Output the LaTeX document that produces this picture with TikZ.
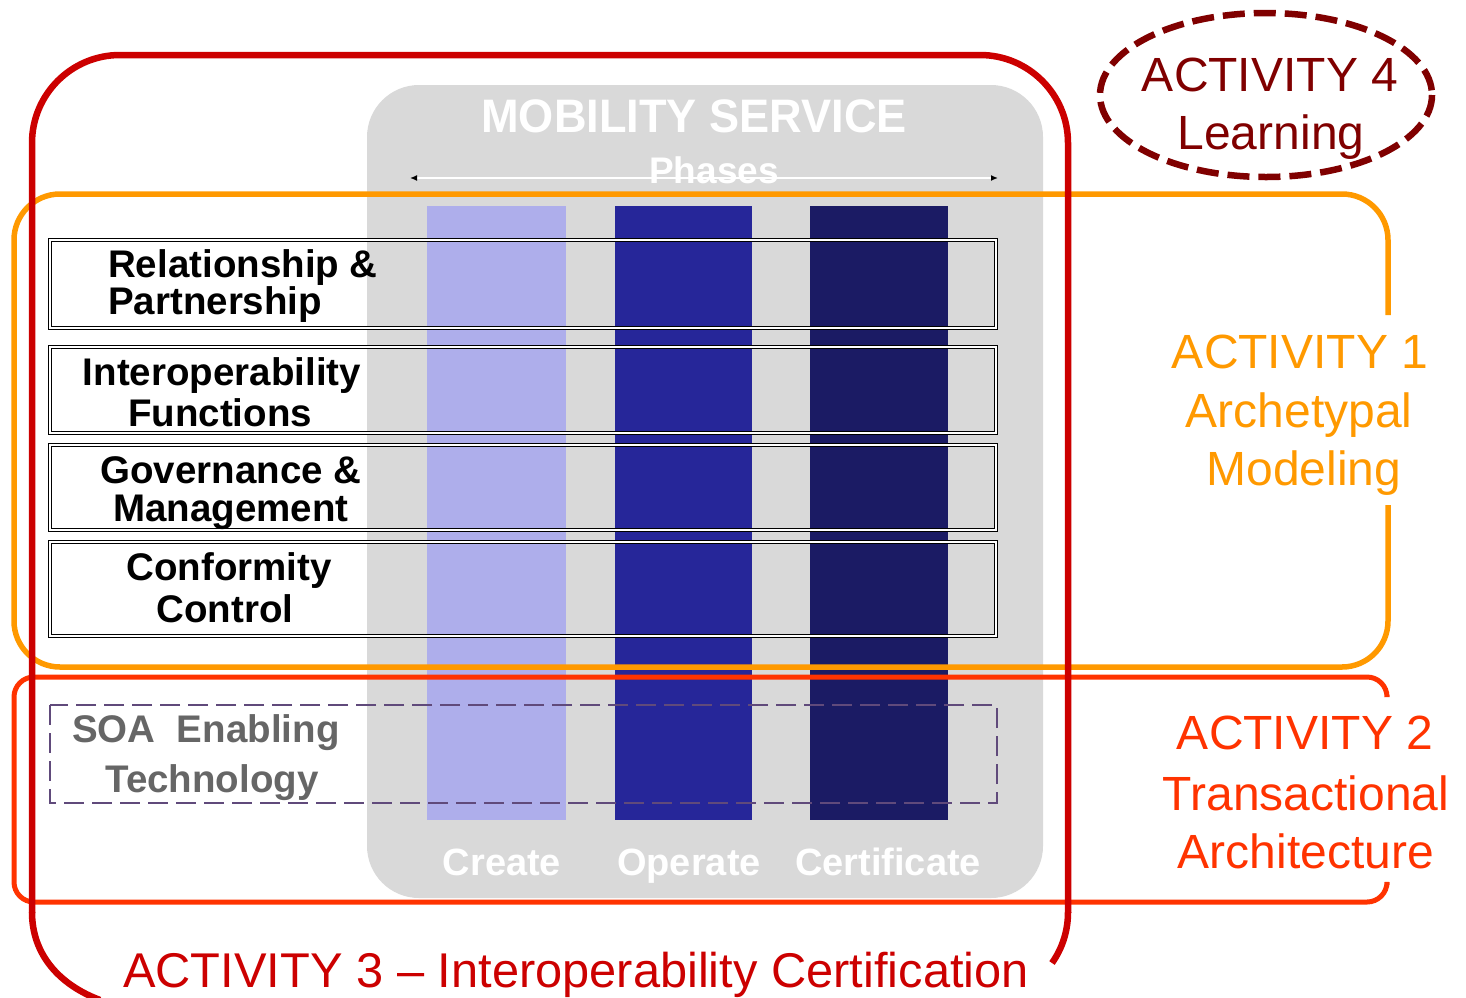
\documentclass[tikz,border=0pt]{standalone}
\usepackage{fontspec}
\usepackage{graphicx}
\setmainfont{Liberation Sans}
\usetikzlibrary{arrows.meta}
\definecolor{panelgray}{HTML}{D9D9D9}
\definecolor{colcreate}{HTML}{AEAEEB}
\definecolor{coloperate}{HTML}{262699}
\definecolor{colcert}{HTML}{1B1B64}
\definecolor{actone}{HTML}{FF9900}
\definecolor{acttwo}{HTML}{FF3300}
\definecolor{actthree}{HTML}{CC0000}
\definecolor{actfour}{HTML}{800000}
\definecolor{soagray}{HTML}{666666}
\definecolor{soadash}{HTML}{604A7B}
\newcommand{\fsz}[1]{\fontsize{#1}{#1}\selectfont}
\begin{document}
\begin{tikzpicture}[x=1pt,y=-1pt,
  rowbox/.style={draw=black, double=white, line width=1.1pt, double distance=1.8pt},
  boxlabel/.style={font=\bfseries\fsz{38.5}, text=black, inner sep=0pt, anchor=base},
  soalabel/.style={font=\bfseries\fsz{38.5}, text=soagray, inner sep=0pt, anchor=base},
  whitelabel/.style={font=\bfseries\fsz{38}, text=white, inner sep=0pt, anchor=base},
  actlabel/.style={font=\fsz{48}, inner sep=0pt, anchor=base}
]
\useasboundingbox (0,0) rectangle (1466,997);

% panel
\fill[panelgray, rounded corners=52pt] (367,85) rectangle (1043,898);
% phase columns
\fill[colcreate] (427,206) rectangle (566,820);
\fill[coloperate] (615,206) rectangle (752,820);
\fill[colcert] (810,206) rectangle (948,820);

% title and phases
\node[font=\bfseries\fsz{47}, text=white, inner sep=0pt, anchor=base] (title) at (694,132) {\scalebox{0.96}[1]{MOBILITY SERVICE}};
\coordinate (pl) at (410,178);
\coordinate (pr) at (998,178);
\draw[white, line width=1.5pt, {Latex[black,length=7pt,width=6pt]}-{Latex[black,length=7pt,width=6pt]}] (pl) -- (pr);
\node[font=\bfseries\fsz{37}, text=white, inner sep=0pt, anchor=base] (phases) at (714,183) {Phases};

% rows
\draw[rowbox] (50,240) rectangle (996,328);
\draw[rowbox] (50,347) rectangle (996,433);
\draw[rowbox] (50,445) rectangle (996,530);
\draw[rowbox] (50,542) rectangle (996,636);
\draw[soadash, line width=2.8pt, dash pattern=on 20pt off 8pt] (50,705) rectangle (997,803);

\node[boxlabel, anchor=base west] (rel1) at (108,277) {Relationship \&};
\node[boxlabel, anchor=base west] (rel2) at (108,314) {Partnership};
\node[boxlabel] (int1) at (222,385) {Interoperability};
\node[boxlabel] (int2) at (220,426) {Functions};
\node[boxlabel] (gov1) at (231,483) {Governance \&};
\node[boxlabel] (gov2) at (231,521) {Management};
\node[boxlabel] (con1) at (229,580) {Conformity};
\node[boxlabel] (con2) at (225,622) {Control};
\node[soalabel, anchor=base west] (soa1) at (72,742) {SOA\ \ Enabling};
\node[soalabel] (soa2) at (212,792) {Technology};

% column labels
\node[whitelabel] (create) at (502,875) {Create};
\node[whitelabel] (operate) at (689,875) {Operate};
\node[whitelabel] (certif) at (888,875) {Certificate};

% activity 1 frame
\draw[actone, line width=5.5pt, rounded corners=46pt] (1388,505) -- (1388,667) -- (14,667) -- (14,194) -- (1388,194) -- (1388,315);
% activity 2 frame
\draw[acttwo, line width=5pt, rounded corners=20pt] (1387,885) -- (1387,902) -- (14,902) -- (14,677) -- (1387,677) -- (1387,695);
% activity 3 frame
\draw[actthree, line width=6.5pt, rounded corners=88pt] (1068,913) -- (1068,55) -- (32,55) -- (32,913);
\draw[actthree, line width=6.5pt] (32,912) .. controls (32,955) and (60,985) .. (100,1000);
\draw[actthree, line width=6.5pt] (1068,912) .. controls (1068,931) and (1062.3,948.3) .. (1052,963);
% activity 4 ellipse
\draw[actfour, line width=6.5pt, dash pattern=on 22pt off 9pt] (1266,95) ellipse [x radius=166, y radius=82];

% activity labels
\node[actlabel, text=actfour] (a4a) at (1270,91) {ACTIVITY 4};
\node[actlabel, text=actfour] (a4b) at (1271,149) {Learning};
\node[actlabel, text=actone] (a1a) at (1300,368) {ACTIVITY 1};
\node[actlabel, text=actone] (a1b) at (1299,427) {Archetypal};
\node[actlabel, text=actone] (a1c) at (1304,485) {Modeling};
\node[actlabel, text=acttwo] (a2a) at (1305,749) {ACTIVITY 2};
\node[actlabel, text=acttwo] (a2b) at (1306,810) {Transactional};
\node[actlabel, text=acttwo] (a2c) at (1306,868) {Architecture};
\node[font=\fsz{48.8}, inner sep=0pt, text=actthree, anchor=base west] (a3) at (123,987) {ACTIVITY 3 – Interoperability Certification};
\end{tikzpicture}
\end{document}
